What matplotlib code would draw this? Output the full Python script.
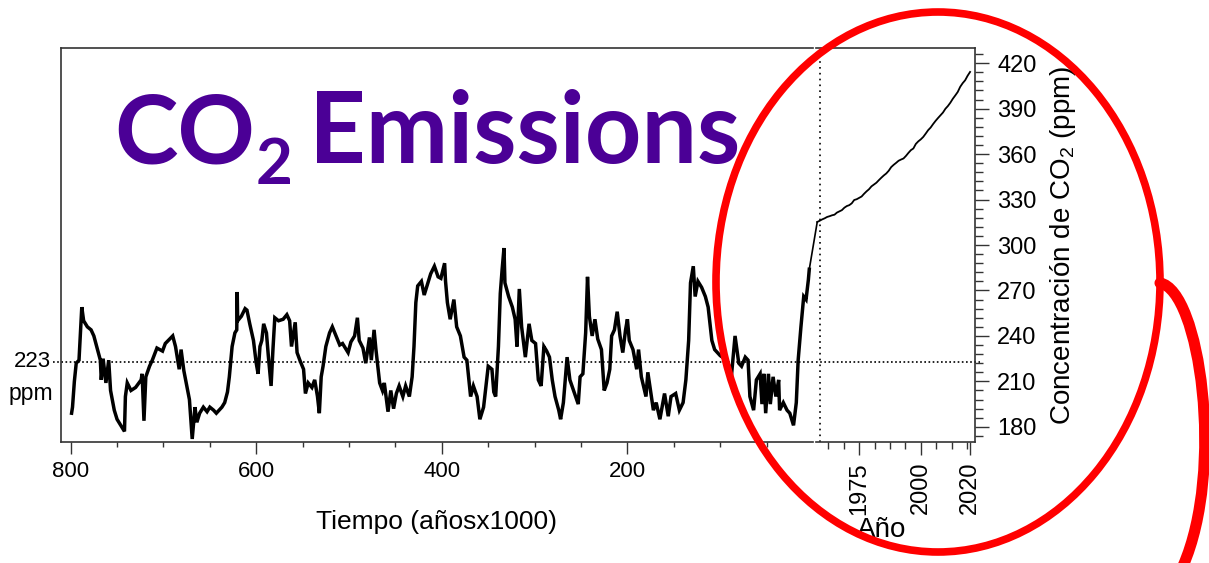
import numpy as np
import matplotlib
matplotlib.use("Agg")
import matplotlib.pyplot as plt
from matplotlib.patches import Ellipse, ConnectionPatch, PathPatch
from matplotlib.path import Path

plt.rcParams['font.family'] = ['Liberation Sans', 'DejaVu Sans']
plt.rcParams['mathtext.fontset'] = 'custom'
plt.rcParams['mathtext.rm'] = 'Liberation Sans'
plt.rcParams['mathtext.it'] = 'Liberation Sans:italic'

# Ice core record (thousands of years before present, ppm)
ice_kyr = [799, 798, 796, 794, 791, 788, 786, 782, 778, 775, 771, 768, 767, 765, 762, 759,
           757, 753, 750, 746, 742, 741, 739, 735, 730, 724, 723, 721, 719, 715, 712, 707,
           701, 698, 690, 687, 683, 681, 678, 672, 669, 666, 664, 661, 657, 653, 650, 646,
           643, 637, 634, 631, 629, 626, 623, 621, 620.5, 620, 616, 612, 610, 607, 603, 600,
           598, 596, 594, 592, 589, 587, 584, 582, 580, 576, 571, 567, 564, 562, 558, 556,
           553, 549, 547, 544, 540, 537, 534, 532, 530, 528, 525, 521, 518, 514, 510, 507,
           501, 498, 494, 491, 489, 485, 482, 478, 476, 473, 471, 467, 464, 462, 458, 455,
           452, 449, 446, 442, 439, 435, 432, 430, 428, 426, 422, 419, 415, 412, 408, 404,
           401, 397, 396, 394, 391, 387, 384, 380, 376, 373, 369, 366, 362, 359, 355, 352,
           350, 346, 344, 342, 339, 337, 335, 333, 332, 328, 324, 321, 319, 316.5, 314, 310,
           306, 303, 299, 296, 293, 290, 287, 284, 281, 278, 274, 272, 269, 265, 262, 257,
           253, 251, 248, 245, 243, 241, 238, 235, 232, 228, 225, 222, 219, 217, 214, 211,
           208, 205, 202, 200, 198, 194, 190, 188, 185, 180, 178, 172, 169, 165, 160, 156,
           153, 148, 144, 140, 137, 134, 132, 129, 127, 124, 120, 116, 113, 109, 106, 100,
           93, 89, 88, 84, 80, 77, 73, 70, 68, 64, 61, 57, 55, 53, 51, 48,
           46, 43, 40, 37, 36, 32, 28, 25, 21, 18, 16, 13, 10, 7.5, 5, 4]
ice_ppm = [189, 193, 210, 222, 224, 259, 250, 246, 244, 240, 231, 224, 211, 225, 209, 224,
           204, 191, 185, 181, 177, 200, 209, 204, 206, 211, 215, 184, 213, 220, 224, 232,
           230, 235, 240, 233, 218, 231, 217, 198, 172, 193, 183, 189, 193, 190, 193, 191,
           189, 193, 196, 203, 213, 233, 242, 244, 269, 250, 253, 258, 257, 248, 237, 222,
           215, 233, 237, 248, 242, 227, 207, 231, 252, 250, 251, 254, 250, 233, 249, 229,
           224, 218, 202, 209, 206, 211, 200, 189, 213, 220, 233, 242, 246, 240, 234, 235,
           229, 236, 240, 252, 237, 232, 222, 239, 224, 244, 231, 209, 204, 209, 190, 204,
           192, 202, 207, 200, 207, 200, 213, 233, 262, 273, 276, 267, 275, 281, 286, 279,
           278, 288, 276, 262, 251, 264, 246, 240, 226, 224, 200, 207, 200, 185, 193, 209,
           220, 218, 203, 200, 233, 268, 284, 298, 275, 266, 259, 251, 233, 271, 246, 226,
           248, 237, 235, 211, 207, 233, 230, 226, 211, 200, 191, 185, 196, 226, 211, 202,
           195, 213, 215, 242, 279, 253, 240, 251, 238, 231, 204, 209, 218, 240, 244, 256,
           240, 229, 244, 251, 237, 231, 218, 231, 213, 200, 216, 191, 196, 185, 202, 187,
           200, 202, 191, 196, 211, 237, 275, 286, 266, 276, 272, 266, 259, 237, 231, 227,
           224, 218, 213, 240, 222, 220, 226, 224, 200, 191, 211, 215, 195, 215, 189, 215,
           195, 213, 200, 211, 191, 196, 191, 189, 181, 196, 224, 246, 266, 264, 277, 284]

# Mauna Loa annual means
ml_year = list(range(1958, 2021))
ml_ppm = [315.2, 316.0, 316.9, 317.6, 318.5, 319.0, 319.6, 320.0, 321.4, 322.2,
          323.0, 324.6, 325.7, 326.3, 327.5, 329.7, 330.2, 331.1, 332.0, 333.8,
          335.4, 336.8, 338.7, 339.9, 341.1, 342.8, 344.4, 345.9, 347.2, 349.0,
          351.4, 352.9, 354.2, 355.6, 356.4, 357.1, 358.8, 360.8, 362.6, 363.7,
          366.7, 368.4, 369.7, 371.3, 373.5, 375.8, 377.5, 379.8, 381.9, 383.8,
          385.6, 387.4, 389.9, 391.7, 393.9, 396.5, 398.7, 401.0, 404.4, 406.8,
          408.7, 411.7, 414.2]

ref_level = 223
kyr_ticks = [800, 600, 400, 200]
year_ticks = [1975, 2000, 2020]
ppm_ticks = list(range(180, 421, 30))

fig = plt.figure(figsize=(12.09, 5.63), dpi=100)
ax1 = fig.add_axes([61 / 1209, 1 - 442 / 563, 752 / 1209, 394 / 563])
ax2 = fig.add_axes([816 / 1209, 1 - 442 / 563, 159 / 1209, 394 / 563])

spine_col = '#333333'
for ax in (ax1, ax2):
    ax.set_ylim(170, 430)
    for s in ax.spines.values():
        s.set_color(spine_col)
        s.set_linewidth(1.2)

# left panel: ice cores
ax1.plot(ice_kyr, ice_ppm, color='black', lw=2.5, solid_joinstyle='miter')
ax1.set_xlim(810.4, 0)
ax1.spines['right'].set_visible(False)
ax1.set_xticks(kyr_ticks)
ax1.set_xticks(np.arange(50, 800, 50), minor=True)
ax1.tick_params(axis='x', which='major', length=8.6, width=1, color=spine_col,
                labelsize=16, pad=5)
ax1.tick_params(axis='x', which='minor', length=3.6, width=1, color=spine_col)
ax1.tick_params(axis='y', which='both', left=False, labelleft=False)
ax1.set_xlabel('Tiempo (añosx1000)', fontsize=19, labelpad=20)
ax1.axhline(ref_level, xmin=-0.011, xmax=1, color='black', lw=1.2,
            ls=(0, (1, 1.5)), clip_on=False)
ax1.text(-0.013, ref_level, '223', transform=ax1.get_yaxis_transform(),
         ha='right', va='center', fontsize=16)
ax1.annotate('ppm', xy=(-0.011, ref_level), xycoords=ax1.get_yaxis_transform(),
             xytext=(0, -23), textcoords='offset points', ha='right', va='center',
             fontsize=16.5)

# right panel: instrumental record
ax2.plot(ml_year, ml_ppm, color='black', lw=1.3)
ax2.set_xlim(1957.5, 2022)
ax2.spines['left'].set_visible(False)
ax2.axvline(1959, color='black', lw=1.2, ls=(0, (1, 2.5)))
ax2.axhline(ref_level, xmin=0, xmax=1.03, color='black', lw=1.2,
            ls=(0, (1, 1.5)), clip_on=False)
ax2.set_xticks(year_ticks)
ax2.set_xticks(np.arange(1962.5, 2020, 6.25), minor=True)
ax2.tick_params(axis='x', which='major', length=9.4, width=1, color=spine_col,
                labelsize=17, labelrotation=90, pad=5)
ax2.tick_params(axis='x', which='minor', length=5, width=1, color=spine_col)
ax2.yaxis.tick_right()
ax2.yaxis.set_label_position('right')
ax2.set_yticks(ppm_ticks)
ax2.set_yticks(np.arange(174, 427, 6), minor=True)
ax2.tick_params(axis='y', which='major', length=10, width=1, color=spine_col,
                labelsize=17, pad=6)
ax2.tick_params(axis='y', which='minor', length=5.8, width=1, color=spine_col)
ax2.set_xlabel('Año', fontsize=20, labelpad=2)
ax2.xaxis.label.set_x(0.41)
ax2.set_ylabel(r'Concentración de CO$_\mathrm{2}$ (ppm)', fontsize=20, labelpad=8)

# link between records
con = ConnectionPatch(xyA=(ice_kyr[-1], ice_ppm[-1]), coordsA=ax1.transData,
                      xyB=(ml_year[0], ml_ppm[0]), coordsB=ax2.transData,
                      color='black', lw=1.2)
fig.add_artist(con)

# title
purple = '#4b0096'
fig.text(114 / 1209, 1 - 163 / 563, 'CO', fontfamily='Lato', fontweight='bold',
         fontsize=69, color=purple, va='baseline', ha='left')
fig.text(256 / 1209, 1 - 184 / 563, '2', fontfamily='Lato', fontweight='bold',
         fontsize=46, color=purple, va='baseline', ha='left')
fig.text(309 / 1209, 1 - 163 / 563, 'Emissions', fontfamily='Lato', fontweight='bold',
         fontsize=71, color=purple, va='baseline', ha='left')

# red highlight
ell = Ellipse((938 / 1209, 1 - 282 / 563), 444 / 1209, 540 / 563,
              transform=fig.transFigure, fill=False, edgecolor='#ff0000', lw=5.5,
              zorder=10)
fig.add_artist(ell)
pts = [(1160, 283), (1200, 290), (1225, 470), (1183, 566)]
pts = [(px / 1209, 1 - py / 563) for px, py in pts]
tail = PathPatch(Path(pts, [Path.MOVETO, Path.CURVE4, Path.CURVE4, Path.CURVE4]),
                 transform=fig.transFigure, fill=False, edgecolor='#ff0000', lw=8,
                 capstyle='round', zorder=10)
fig.add_artist(tail)

fig.savefig('out.png', dpi=100)
